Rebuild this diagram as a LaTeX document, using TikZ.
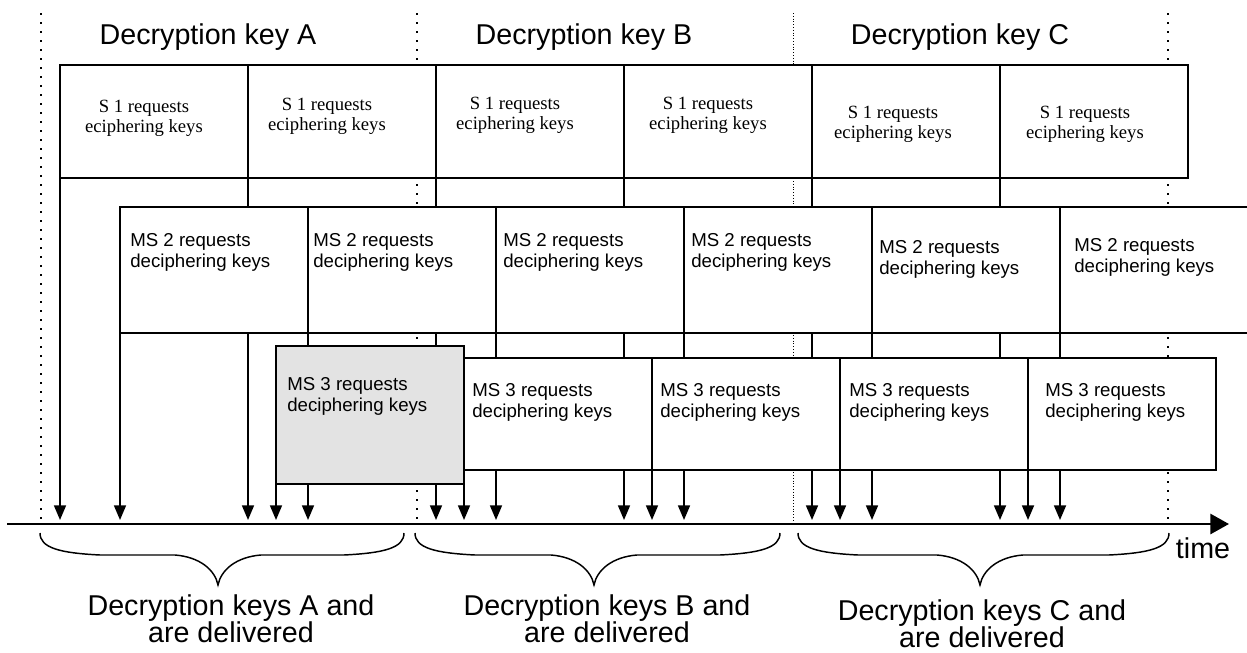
\documentclass[tikz,border=0pt]{standalone}
\usepackage{fontspec}
\setmainfont{Liberation Sans}
\newfontfamily\tmsfont{Liberation Serif}
\usetikzlibrary{arrows.meta}
\pgfdeclarelayer{bg}
\pgfsetlayers{bg,main}
\definecolor{shade}{RGB}{227,227,227}
\begin{document}
\begin{tikzpicture}[x=0.75pt,y=-0.75pt,
  box/.style={draw, line width=1.3pt, fill=white, minimum width=141pt, anchor=north west, inner sep=0pt, outer sep=0pt},
  rowone/.style={box, minimum height=84.75pt},
  rowtwo/.style={box, minimum height=94.5pt},
  rowthree/.style={box, minimum height=84pt},
  shadedbox/.style={box, fill=shade, minimum height=103.5pt},
  stxt/.style={font=\tmsfont\fontsize{14}{15}\selectfont, align=center, anchor=north, inner sep=0pt},
  mtxt/.style={font=\fontsize{14}{15.75}\selectfont, align=left, anchor=north west, inner sep=0pt},
  lbl/.style={font=\fontsize{21.5}{20.25}\selectfont, inner sep=0pt},
  arr/.style={line width=1.3pt, -{Triangle[length=11pt,width=9pt]}},
  dots/.style={line width=1.5pt, dash pattern=on 1.5pt off 5.25pt},
  fdots/.style={line width=0.6pt, dash pattern=on 0.6pt off 1.5pt},
  axisline/.style={line width=2.2pt, -{Triangle[length=14pt,width=15pt]}},
  brc/.style={line width=1.1pt}
]
\useasboundingbox (0,0) rectangle (1247,653);

% row 1
\node[rowone] (s1a) at (60,65) {};
\node[rowone] (s1b) at (248,65) {};
\node[rowone] (s1c) at (436,65) {};
\node[rowone] (s1d) at (624,65) {};
\node[rowone] (s1e) at (812,65) {};
\node[rowone] (s1f) at (1000,65) {};
% row 2
\node[rowtwo] (m2a) at (120,207) {};
\node[rowtwo] (m2b) at (308,207) {};
\node[rowtwo] (m2c) at (496,207) {};
\node[rowtwo] (m2d) at (684,207) {};
\node[rowtwo] (m2e) at (872,207) {};
\node[rowtwo] (m2f) at (1060,207) {};
% row 3
\node[shadedbox] (m3a) at (276,346) {};
\node[rowthree] (m3b) at (464,358) {};
\node[rowthree] (m3c) at (652,358) {};
\node[rowthree] (m3d) at (840,358) {};
\node[rowthree] (m3e) at (1028,358) {};

% texts row 1
\node[stxt] (ts1a) at (144,100) {S 1 requests\\eciphering keys};
\node[stxt] (ts1b) at (327,98) {S 1 requests\\eciphering keys};
\node[stxt] (ts1c) at (515,97) {S 1 requests\\eciphering keys};
\node[stxt] (ts1d) at (708,97) {S 1 requests\\eciphering keys};
\node[stxt] (ts1e) at (893,106) {S 1 requests\\eciphering keys};
\node[stxt] (ts1f) at (1085,106) {S 1 requests\\eciphering keys};
% texts row 2
\node[mtxt] (tm2a) at (130,233) {MS 2 requests\\deciphering keys};
\node[mtxt] (tm2b) at (313,233) {MS 2 requests\\deciphering keys};
\node[mtxt] (tm2c) at (503,233) {MS 2 requests\\deciphering keys};
\node[mtxt] (tm2d) at (691,233) {MS 2 requests\\deciphering keys};
\node[mtxt] (tm2e) at (879,240) {MS 2 requests\\deciphering keys};
\node[mtxt] (tm2f) at (1074,238) {MS 2 requests\\deciphering keys};
% texts row 3
\node[mtxt] (tm3a) at (287,377) {MS 3 requests\\deciphering keys};
\node[mtxt] (tm3b) at (472,383) {MS 3 requests\\deciphering keys};
\node[mtxt] (tm3c) at (660,383) {MS 3 requests\\deciphering keys};
\node[mtxt] (tm3d) at (849,383) {MS 3 requests\\deciphering keys};
\node[mtxt] (tm3e) at (1045,383) {MS 3 requests\\deciphering keys};

% top labels
\node[lbl, anchor=base] (ka) at (208,44) {Decryption key A};
\node[lbl, anchor=base] (kb) at (584,44) {Decryption key B};
\node[lbl, anchor=base] (kc) at (960,44) {Decryption key C};

% axis
\coordinate (axL) at (7,524);
\coordinate (axR) at (1229,524);
\coordinate (tipy) at (0,520);
\draw[axisline] (axL) -- (axR);
\node[lbl, anchor=base] (tm) at (1203,558) {time};

% braces
\draw[brc] (40,533) .. controls (40,548) and (60,553) .. (100,555) -- (175,555)
  .. controls (200,557) and (215,570) .. (218,585)
  .. controls (221,570) and (236,557) .. (261,555) -- (344,555)
  .. controls (384,553) and (404,548) .. (404,533);
\draw[brc] (415,533) .. controls (415,548) and (435,553) .. (475,555) -- (551,555)
  .. controls (576,557) and (591,570) .. (594,585)
  .. controls (597,570) and (612,557) .. (637,555) -- (720,555)
  .. controls (760,553) and (780,548) .. (780,533);
\draw[brc] (798,533) .. controls (798,548) and (818,553) .. (858,555) -- (937,555)
  .. controls (962,557) and (977,570) .. (980,585)
  .. controls (983,570) and (998,557) .. (1023,555) -- (1109,555)
  .. controls (1149,553) and (1169,548) .. (1169,533);

% bottom labels
\node[lbl, align=center, anchor=north] (da) at (231,594) {Decryption keys A and\\are delivered};
\node[lbl, align=center, anchor=north] (db) at (607,594) {Decryption keys B and\\are delivered};
\node[lbl, align=center, anchor=north] (dc) at (982,599) {Decryption keys C and\\are delivered};

\begin{pgfonlayer}{bg}
  \coordinate (dA) at (41,13);
  \coordinate (dB) at (417,13);
  \coordinate (dC) at (793,13);
  \coordinate (dD) at (1168,13);
  \draw[dots] (dA) -- (dA |- tipy);
  \draw[dots] (dB) -- (dB |- tipy);
  \draw[fdots] (dC) -- (dC |- tipy);
  \draw[dots] (dD) -- (dD |- tipy);
  \foreach \n in {s1a,s1b,s1c,s1d,s1e,s1f,m2a,m2b,m2c,m2d,m2e,m2f,m3a,m3b,m3c,m3d,m3e}
    \draw[arr] (\n.south west) -- (\n.south west |- tipy);
\end{pgfonlayer}
\end{tikzpicture}
\end{document}
